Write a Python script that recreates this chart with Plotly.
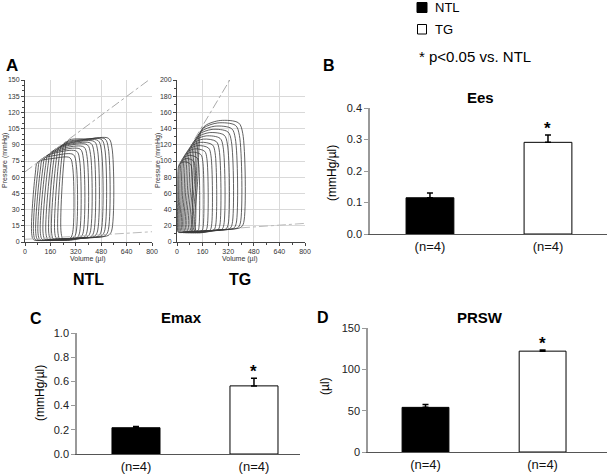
import plotly.graph_objects as go

# ---------------- Data ----------------
# Panel A: PV loops (volume in µl, pressure in mmHg), one entry per loop
ntl_edv = [545, 522, 500, 478, 455, 432, 410, 388, 365, 342, 320, 298]
ntl_esv_top = [255, 238, 220, 202, 185, 168, 150, 133, 116, 100, 84, 68]
ntl_esv_bot = [228, 208, 188, 168, 150, 132, 114, 97, 82, 68, 54, 42]
ntl_pes = [93, 91, 89, 87, 85.5, 84, 82, 80, 78, 76.5, 75, 73]
ntl_pmax = [96, 95.5, 95, 94, 93, 91.5, 90, 88, 86, 84, 81, 78]
ntl_edp = [6, 5.5, 5.5, 5, 5, 4.5, 4.5, 4, 4, 3.5, 3.5, 3]
ntl_pmin = 2
ntl_espvr_v = [0, 780]
ntl_espvr_p = [65, 150]
ntl_edpvr_v = [0, 800]
ntl_edpvr_p = [2.5, 9.5]

tg_edv = [417, 396, 370, 345, 320, 293, 268, 242, 216, 190, 164, 138, 115, 95]
tg_esv_top = [150, 140, 128, 116, 104, 92, 80, 68, 57, 46, 36, 26, 17, 10]
tg_esv_bot = [112, 102, 92, 82, 72, 62, 53, 44, 36, 28, 20, 13, 7, 3]
tg_pes = [136, 133, 129, 126, 122, 119, 115, 111, 108, 105, 102, 99, 96, 94]
tg_pmax = [150, 147, 143, 139, 135, 131, 127, 123, 119, 115, 111, 107, 103, 99]
tg_edp = [18, 17.5, 17, 16.5, 16, 15.5, 15, 15, 14.5, 14.5, 14, 14, 13.5, 13.5]
tg_pmin = 12
tg_espvr_v = [110, 330]
tg_espvr_p = [127, 200]
tg_edpvr_v = [400, 800]
tg_edpvr_p = [17.5, 23]

# Bar panels
groups = ["NTL", "TG"]
group_ticks = ["(n=4)", "(n=4)"]
ees_mean = [0.115, 0.291]
ees_err = [0.015, 0.023]
emax_mean = [0.217, 0.563]
emax_err = [0.010, 0.063]
prsw_mean = [54, 122]
prsw_err = [3.5, 1.5]
sig = [False, True]

FONT = "Arial, Liberation Sans, Helvetica, sans-serif"
W, H = 608, 474


def px(x):
    return x / W


def py(y):
    return 1 - y / H


def loop_ntl(edv, vt, vb, pes, pmax, edp, pmin):
    w = edv - vb
    xs = [(vb + edv) / 2, edv - 0.07 * w, edv, edv + 0.01 * w, edv - 0.06 * w,
          (vt + edv) / 2, vt + 0.05 * (edv - vt), vt - 0.01 * w, vb, vb + 0.05 * w, (vb + edv) / 2]
    ys = [(pmin + edp) / 2, edp, edp + 4, pmax - 9, pmax,
          pmax - 0.5, pes + 0.8, pes - 9, pmin + 6, pmin, (pmin + edp) / 2]
    return xs, ys


def loop_tg(edv, vt, vb, pes, pmax, edp, pmin):
    w = edv - vb
    wt = edv - vt
    xs = [(vb + edv) / 2, edv - 0.06 * w, edv, edv - 0.02 * w, edv - 0.12 * wt,
          vt + 0.45 * wt, vt + 0.1 * wt, vt, (vt + vb) / 2 - 2, vb, vb + 0.05 * w, (vb + edv) / 2]
    ys = [(pmin + edp) / 2, edp, edp + 6, pmax - 0.12 * (pmax - edp), pmax - 3,
          pmax, pes + 0.55 * (pmax - pes), pes, 0.55 * pes, pmin + 6, pmin, (pmin + edp) / 2]
    return xs, ys


fig = go.Figure()

loop_line = dict(color="#3a3a3a", width=0.8, shape="spline", smoothing=0.9)
for i in range(len(ntl_edv)):
    xs, ys = loop_ntl(ntl_edv[i], ntl_esv_top[i], ntl_esv_bot[i], ntl_pes[i],
                      ntl_pmax[i], ntl_edp[i], ntl_pmin)
    fig.add_trace(go.Scatter(x=xs, y=ys, mode="lines", line=loop_line,
                             xaxis="x", yaxis="y", showlegend=False, hoverinfo="skip"))
fig.add_trace(go.Scatter(x=ntl_espvr_v, y=ntl_espvr_p, mode="lines",
                         line=dict(color="#aaaaaa", width=1, dash="dashdot"),
                         xaxis="x", yaxis="y", showlegend=False))
fig.add_trace(go.Scatter(x=ntl_edpvr_v, y=ntl_edpvr_p, mode="lines",
                         line=dict(color="#bbbbbb", width=1, dash="dashdot"),
                         xaxis="x", yaxis="y", showlegend=False))

for i in range(len(tg_edv)):
    xs, ys = loop_tg(tg_edv[i], tg_esv_top[i], tg_esv_bot[i], tg_pes[i],
                     tg_pmax[i], tg_edp[i], tg_pmin)
    fig.add_trace(go.Scatter(x=xs, y=ys, mode="lines", line=loop_line,
                             xaxis="x2", yaxis="y2", showlegend=False, hoverinfo="skip"))
fig.add_trace(go.Scatter(x=tg_espvr_v, y=tg_espvr_p, mode="lines",
                         line=dict(color="#aaaaaa", width=1, dash="dashdot"),
                         xaxis="x2", yaxis="y2", showlegend=False))
fig.add_trace(go.Scatter(x=tg_edpvr_v, y=tg_edpvr_p, mode="lines",
                         line=dict(color="#bbbbbb", width=1, dash="dashdot"),
                         xaxis="x2", yaxis="y2", showlegend=False))


def add_bars(means, errs, xa, ya, width):
    fig.add_trace(go.Bar(
        x=[0, 1], y=means, width=width,
        marker=dict(color=["black", "white"], line=dict(color="black", width=1)),
        error_y=dict(type="data", array=errs, arrayminus=[0, 0], symmetric=False,
                     color="black", thickness=1.5, width=3),
        xaxis=xa, yaxis=ya, showlegend=False, hoverinfo="skip"))


add_bars(ees_mean, ees_err, "x3", "y3", 0.405)
add_bars(emax_mean, emax_err, "x4", "y4", 0.407)
add_bars(prsw_mean, prsw_err, "x5", "y5", 0.40)

pv_tickfont = dict(family=FONT, size=7, color="#333")
pv_x = dict(range=[0, 800], dtick=160, tick0=0, showgrid=True, gridcolor="#d9d9d9",
            gridwidth=1, zeroline=False, showline=True, linecolor="#444", linewidth=1,
            ticks="outside", ticklen=3, tickcolor="#444", tickfont=pv_tickfont,
            minor=dict(dtick=80, ticks="outside", ticklen=2, tickcolor="#444", showgrid=False),
            automargin=False)
pv_y = dict(showgrid=True, gridcolor="#d9d9d9", zeroline=False,
            showline=True, linecolor="#444", ticks="outside", ticklen=3, tickcolor="#444",
            tickfont=pv_tickfont, automargin=False)
bar_tickfont = dict(family=FONT, size=11, color="#222")
bar_x = dict(tickvals=[0, 1], ticktext=group_ticks, showgrid=False, zeroline=False,
             showline=True, linecolor="#555", linewidth=1, ticks="",
             tickfont=dict(family=FONT, size=13, color="#111"), automargin=False)
bar_y = dict(showgrid=False, zeroline=False, showline=True, linecolor="#999", linewidth=1.5,
             ticks="outside", ticklen=4, tickcolor="#999", tickfont=bar_tickfont,
             automargin=False)

fig.update_layout(
    width=W, height=H, margin=dict(l=0, r=0, t=0, b=0, pad=0), autosize=False,
    paper_bgcolor="white", plot_bgcolor="white", showlegend=False,
    font=dict(family=FONT),
    xaxis=dict(pv_x, domain=[px(25), px(152)], anchor="y"),
    yaxis=dict(pv_y, range=[0, 150], dtick=15, domain=[py(242), py(80)], anchor="x",
               minor=dict(dtick=5, ticks="outside", ticklen=2, tickcolor="#444", showgrid=False)),
    xaxis2=dict(pv_x, domain=[px(177), px(305)], anchor="y2"),
    yaxis2=dict(pv_y, range=[0, 200], dtick=20, domain=[py(242), py(80)], anchor="x2",
                minor=dict(dtick=10, ticks="outside", ticklen=2, tickcolor="#444", showgrid=False)),
    xaxis3=dict(bar_x, range=[-0.508, 1.5], domain=[px(370), px(607)], anchor="y3"),
    yaxis3=dict(bar_y, range=[0, 0.4], dtick=0.1, tickformat=".1f",
                domain=[py(234), py(108)], anchor="x3"),
    xaxis4=dict(bar_x, range=[-0.5, 1.39], domain=[px(77), px(300)], anchor="y4"),
    yaxis4=dict(bar_y, range=[0, 1.0], dtick=0.2, tickformat=".1f",
                domain=[py(454), py(333)], anchor="x4"),
    xaxis5=dict(bar_x, range=[-0.491, 1.55], domain=[px(368), px(607)], anchor="y5"),
    yaxis5=dict(bar_y, range=[0, 150], dtick=50,
                domain=[py(452), py(328)], anchor="x5"),
)


def ann(x, y, text, size, bold=False, angle=0, color="black", xanchor="center"):
    t = f"<b>{text}</b>" if bold else text
    fig.add_annotation(x=px(x), y=py(y), xref="paper", yref="paper", text=t,
                       showarrow=False, textangle=angle, xanchor=xanchor, yanchor="middle",
                       font=dict(family=FONT, size=size, color=color))


# Panel A labels
ann(12, 66, "A", 17, bold=True)
ann(5, 161, "Pressure (mmHg)", 7, angle=-90, color="#333")
ann(158, 161, "Pressure (mmHg)", 7, angle=-90, color="#333")
ann(88, 259, "Volume (µl)", 7, color="#333")
ann(240, 259, "Volume (µl)", 7, color="#333")
ann(88, 279, "NTL", 16, bold=True)
ann(240, 279, "TG", 16, bold=True)

# Legend
fig.add_shape(type="rect", xref="paper", yref="paper", x0=px(417), x1=px(427),
              y0=py(12.5), y1=py(2.5), fillcolor="black", line=dict(color="black", width=1))
fig.add_shape(type="rect", xref="paper", yref="paper", x0=px(417.5), x1=px(426.5),
              y0=py(34), y1=py(24.5), fillcolor="white", line=dict(color="black", width=1))
ann(433, 7.5, "NTL", 13, xanchor="left")
ann(433, 29, "TG", 13, xanchor="left")
ann(417, 56, "* p<0.05 vs. NTL", 15, xanchor="left")

# Panel B/C/D labels
ann(329, 65, "B", 16, bold=True)
ann(480, 97, "Ees", 15, bold=True)
ann(332, 173, "(mmHg/µl)", 12, angle=-90)
ann(36, 318, "C", 16, bold=True)
ann(181, 317, "Emax", 15, bold=True)
ann(40, 393, "(mmHg/µl)", 12, angle=-90)
ann(323, 317, "D", 16, bold=True)
ann(480, 317, "PRSW", 15, bold=True)
ann(325, 386, "(µl)", 12, angle=-90)

# Significance stars from data
for xa, ya, means, errs in [("x3", "y3", ees_mean, ees_err),
                            ("x4", "y4", emax_mean, emax_err),
                            ("x5", "y5", prsw_mean, prsw_err)]:
    for i in range(2):
        if sig[i]:
            fig.add_annotation(x=i, y=means[i] + errs[i], xref=xa, yref=ya, text="<b>*</b>",
                               showarrow=False, yanchor="bottom", yshift=-5,
                               font=dict(family=FONT, size=17, color="black"))

fig.write_html("out.html", config={"displayModeBar": False, "responsive": False},
               post_script="document.body.style.margin='0';"
                           "document.documentElement.style.overflow='hidden';")
